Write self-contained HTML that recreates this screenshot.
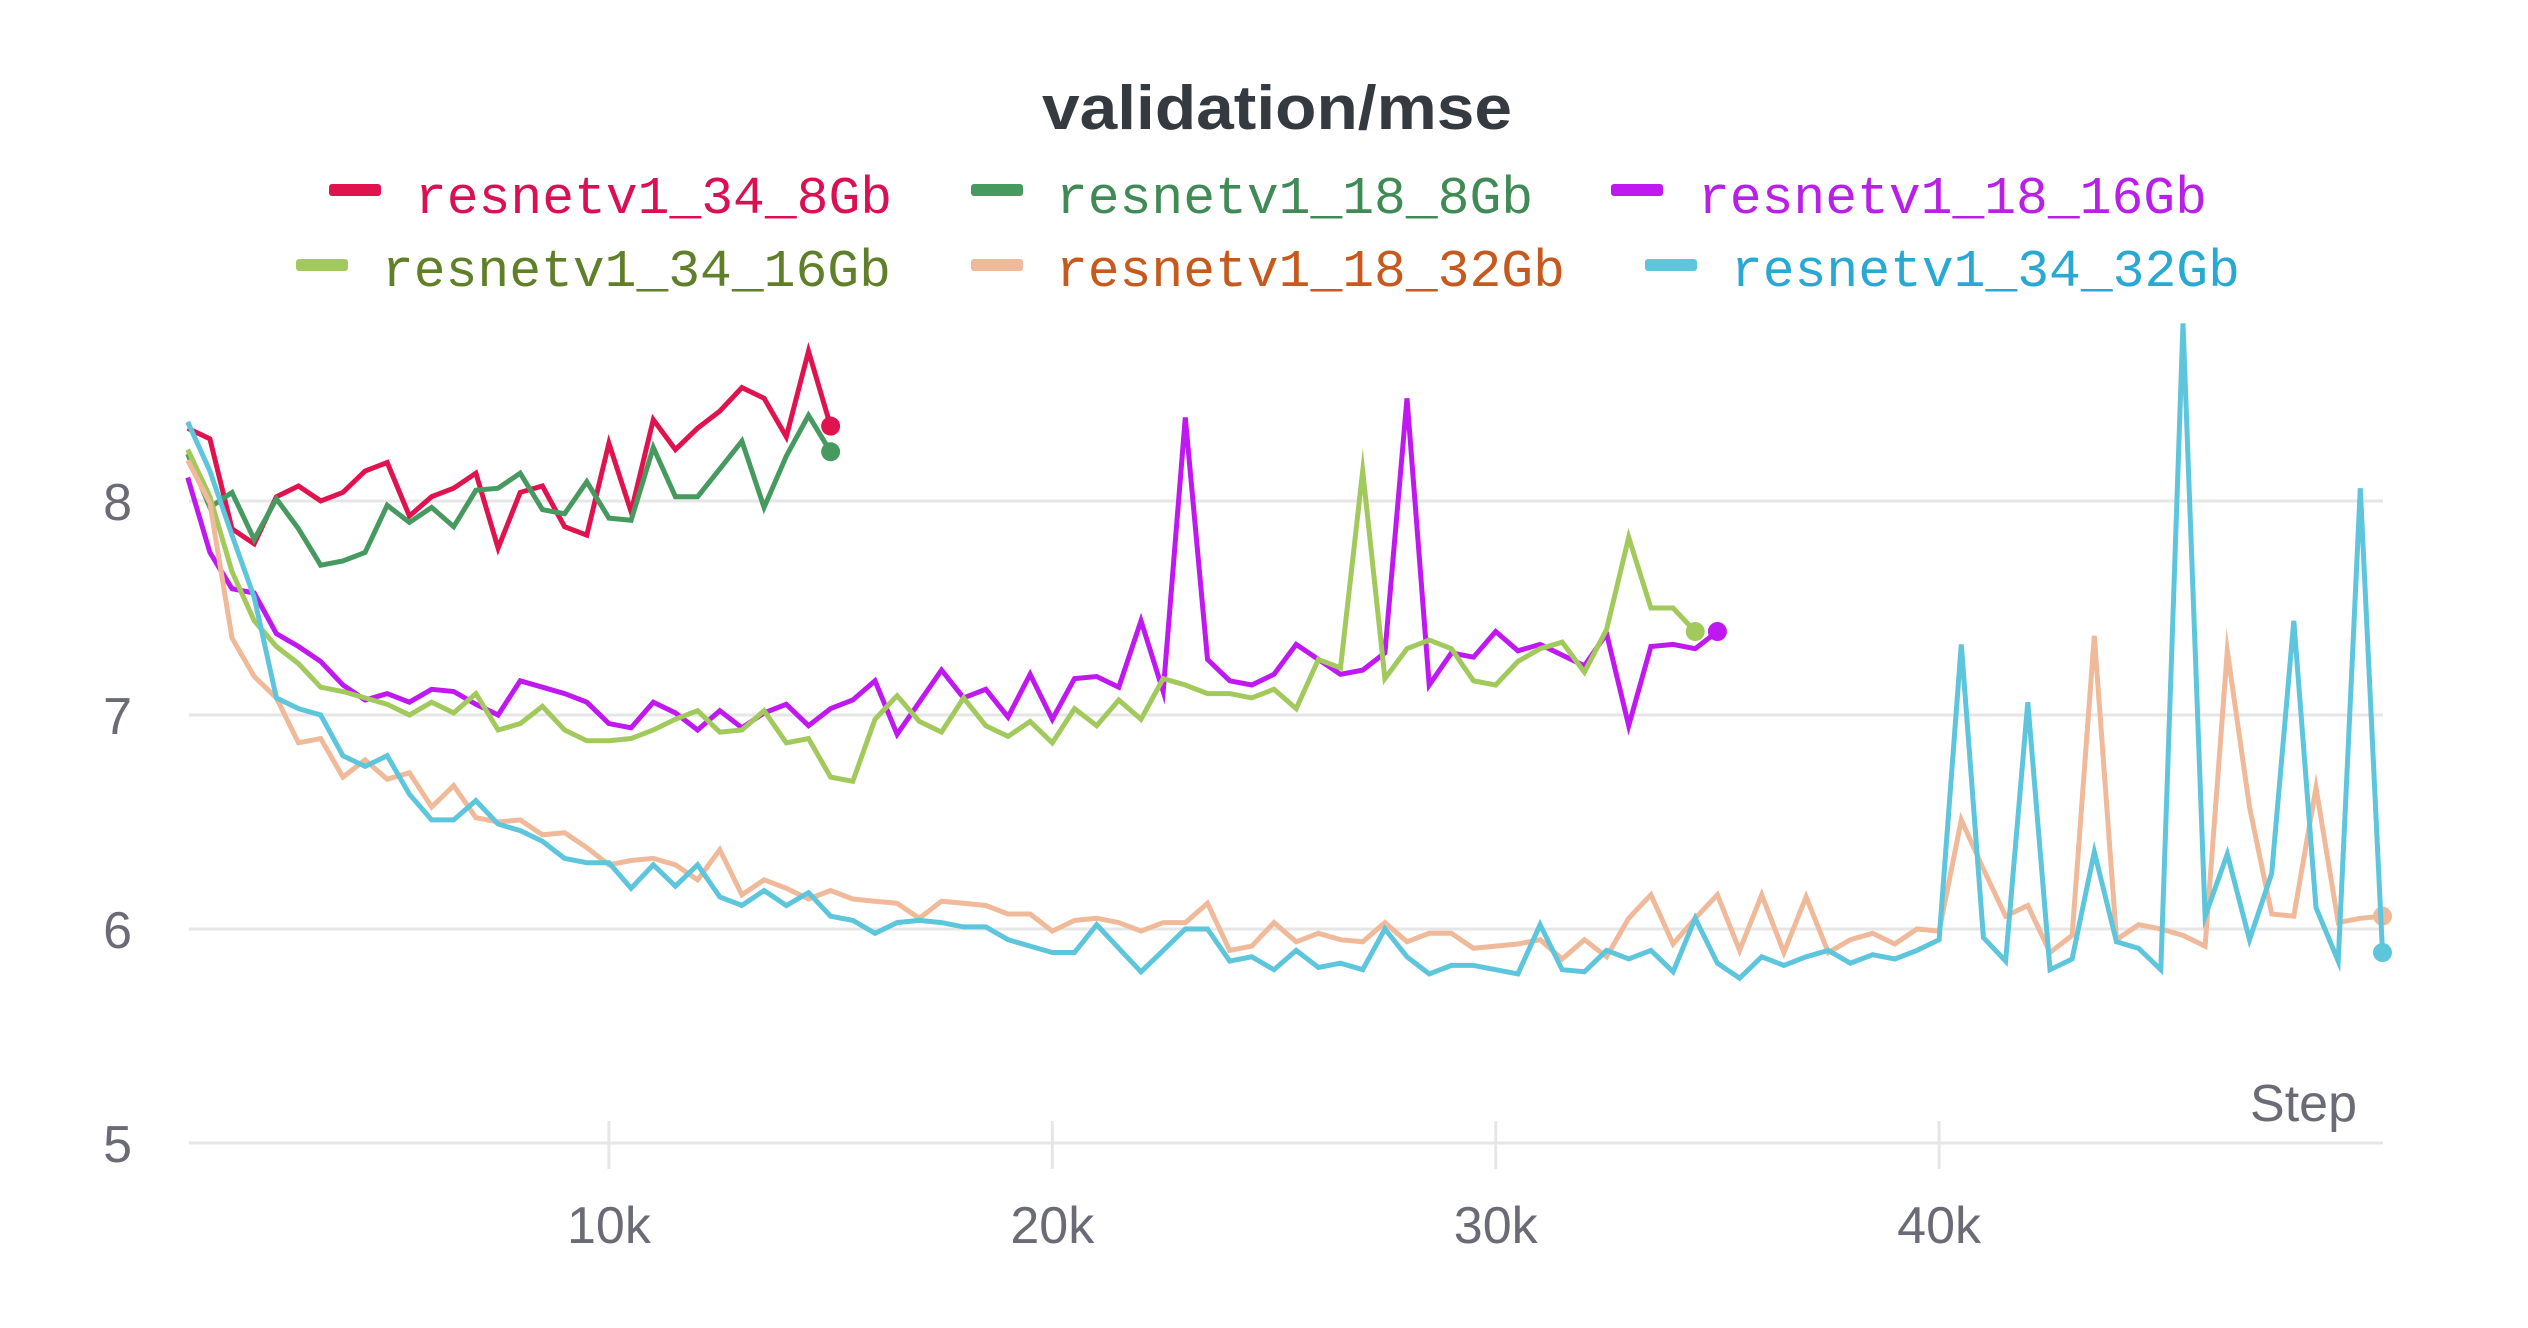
<!DOCTYPE html>
<html>
<head>
<meta charset="utf-8">
<style>
  html,body{margin:0;padding:0;background:#fff;}
  svg{display:block;}
  .tick{font-family:"Liberation Sans",sans-serif;font-size:52px;fill:#6b6b76;}
  .leg{font-family:"Liberation Mono",monospace;font-size:53px;}
</style>
</head>
<body>
<svg id="chart" width="2528" height="1328" viewBox="0 0 2528 1328" xmlns="http://www.w3.org/2000/svg">
  <text x="1277" y="129" text-anchor="middle" font-family="Liberation Sans, sans-serif" font-weight="bold" font-size="62" fill="#343a40" textLength="470" lengthAdjust="spacingAndGlyphs">validation/mse</text>
  <g id="legend"></g>
  <g id="grid"></g>
  <g id="axes"></g>
  <g id="series"></g>
</svg>
<script>
const seriesNames = ["resnetv1_34_8Gb","resnetv1_18_8Gb","resnetv1_18_16Gb","resnetv1_34_16Gb","resnetv1_18_32Gb","resnetv1_34_32Gb"];
const yTicks = [5,6,7,8];
const yTickLabels = ["5","6","7","8"];
const xTicks = [10000,20000,30000,40000];
const xTickLabels = ["10k","20k","30k","40k"];
const stepInterval = 500;

const red = [8.34,8.29,7.87,7.80,8.02,8.07,8.00,8.04,8.14,8.18,7.93,8.02,8.06,8.13,7.78,8.04,8.07,7.88,7.84,8.27,7.95,8.38,8.24,8.34,8.42,8.53,8.48,8.30,8.70,8.35];
const darkGreen = [8.22,7.97,8.04,7.82,8.01,7.87,7.70,7.72,7.76,7.98,7.90,7.97,7.88,8.05,8.06,8.13,7.96,7.94,8.09,7.92,7.91,8.25,8.02,8.02,8.15,8.28,7.97,8.21,8.40,8.23];
const magenta = [8.11,7.76,7.59,7.57,7.38,7.32,7.25,7.14,7.07,7.10,7.06,7.12,7.11,7.05,7.00,7.16,7.13,7.10,7.06,6.96,6.94,7.06,7.01,6.93,7.02,6.94,7.01,7.05,6.95,7.03,7.07,7.16,6.91,7.06,7.21,7.08,7.12,
  6.99,7.19,6.98,7.17,7.18,7.13,7.44,7.11,8.39,7.26,7.16,7.14,7.19,7.33,7.26,7.19,7.21,7.29,8.48,7.14,7.29,7.27,7.39,7.30,
  7.33,7.28,7.23,7.38,6.95,7.32,7.33,7.31,7.39];
const lime = [8.24,8.02,7.67,7.44,7.32,7.24,7.13,7.11,7.08,7.05,7.00,7.06,7.01,7.10,6.93,6.96,7.04,6.93,6.88,6.88,6.89,6.93,6.98,7.02,6.92,6.93,7.02,6.87,6.89,6.71,6.69,6.98,7.09,6.97,6.92,7.08,6.95,
  6.90,6.97,6.87,7.03,6.95,7.07,6.98,7.17,7.14,7.10,7.10,7.08,7.12,7.03,7.26,7.22,8.14,7.17,7.31,7.35,7.31,7.16,7.14,7.25,
  7.31,7.34,7.20,7.40,7.83,7.50,7.50,7.39];
const peach = [8.19,7.99,7.36,7.18,7.08,6.87,6.89,6.71,6.79,6.70,6.73,6.57,6.67,6.52,6.50,6.51,6.44,6.45,6.38,6.30,6.32,6.33,6.30,6.23,6.37,6.16,6.23,6.19,6.14,6.18,6.14,6.13,6.12,6.05,6.13,6.12,6.11,
  6.07,6.07,5.99,6.04,6.05,6.03,5.99,6.03,6.03,6.12,5.90,5.92,6.03,5.94,5.98,5.95,5.94,6.03,5.94,5.98,5.98,5.91,5.92,5.93,
  5.95,5.86,5.95,5.87,6.05,6.16,5.93,6.05,6.16,5.90,6.16,5.89,6.15,5.89,5.95,5.98,5.93,
  6.00,5.99,6.51,6.28,6.06,6.11,5.89,5.97,7.37,5.95,6.02,6.00,5.97,5.92,7.30,6.57,6.07,6.06,6.66,6.03,6.05,6.06];
const cyan = [8.37,8.14,7.84,7.55,7.08,7.03,7.00,6.81,6.76,6.81,6.63,6.51,6.51,6.60,6.49,6.46,6.41,6.33,6.31,6.31,6.19,6.30,6.20,6.30,6.15,6.11,6.18,6.11,6.17,6.06,6.04,5.98,6.03,6.04,6.03,6.01,6.01,
  5.95,5.92,5.89,5.89,6.02,5.91,5.80,5.90,6.00,6.00,5.85,5.87,5.81,5.90,5.82,5.84,5.81,6.00,5.87,5.79,5.83,5.83,5.81,5.79,
  6.02,5.81,5.80,5.90,5.86,5.90,5.80,6.05,5.84,5.77,5.87,5.83,5.87,5.90,5.84,5.88,5.86,
  5.90,5.95,7.33,5.96,5.85,7.06,5.81,5.86,6.36,5.94,5.91,5.81,8.83,6.06,6.35,5.95,6.26,7.44,6.10,5.85,8.06,5.89];

const NS = "http://www.w3.org/2000/svg";
const plotLeft = 189, plotRight = 2383;
const xA = 187.7, xPer = (2382.5 - 187.7) / 49500;
function xScale(step){ return xA + (step - 500) * xPer; }
function yScale(v){ return 501 + (8 - v) * 214; }
function mk(tag, attrs, parent){
  const el = document.createElementNS(NS, tag);
  for (const k in attrs) el.setAttribute(k, attrs[k]);
  parent.appendChild(el);
  return el;
}

const grid = document.getElementById('grid');
yTicks.forEach((t, i) => {
  const gl = mk('line', {x1: plotLeft, x2: plotRight, y1: yScale(t), y2: yScale(t), stroke: '#e6e6e6', 'stroke-width': 3}, grid);
  
  
});
const axes = document.getElementById('axes');
yTicks.forEach((t, i) => {
  const tx = mk('text', {x: 132, y: yScale(t) + 19, 'text-anchor': 'end', class: 'tick'}, axes);
  tx.textContent = yTickLabels[i];
  
  
});
xTicks.forEach((t, i) => {
  const tm = mk('line', {x1: xScale(t), x2: xScale(t), y1: 1121, y2: 1169, stroke: '#e6e6e6', 'stroke-width': 3}, axes);
  
  
  const tx = mk('text', {x: xScale(t), y: 1243, 'text-anchor': 'middle', class: 'tick'}, axes);
  tx.textContent = xTickLabels[i];
  
  
});
const st = mk('text', {x: 2357, y: 1121, 'text-anchor': 'end', class: 'tick'}, axes);
st.textContent = 'Step';



const seriesValues = [red, darkGreen, magenta, lime, peach, cyan];
const lineColors = ['#e0134f','#479a5f','#c018f0','#a2c95c','#f0b999','#5dc5dc'];
const textColors = ['#da1052','#3f8a55','#b820e8','#5f7f28','#c65a1e','#28a8d2'];
const seriesG = document.getElementById('series');
seriesValues.forEach((vals, s) => {
  let d = '';
  vals.forEach((v, i) => {
    const step = stepInterval * (i + 1);
    d += (i ? 'L' : 'M') + xScale(step).toFixed(1) + ',' + yScale(v).toFixed(1);
  });
  const p = mk('path', {d: d, fill: 'none', stroke: lineColors[s], 'stroke-width': 5, 'stroke-linejoin': 'miter', 'stroke-miterlimit': 10}, seriesG);
  
  
  const last = vals.length - 1;
  const c = mk('circle', {cx: xScale(stepInterval * (last + 1)), cy: yScale(vals[last]), r: 9.5, fill: lineColors[s]}, seriesG);
  
  
});

const legend = document.getElementById('legend');
const legendPos = [[329,415,190,213],[971,1056,190,213],[1611,1698,190,213],[296,382,265,286],[971,1056,265,286],[1645,1731,265,286]];
seriesNames.forEach((n, s) => {
  const lp = legendPos[s];
  const g = mk('g', {}, legend);
  
  
  const r = mk('rect', {x: lp[0], y: lp[2] - 6, width: 52, height: 12, rx: 3, fill: lineColors[s]}, g);
  
  
  const t = mk('text', {x: lp[1], y: lp[3], class: 'leg', fill: textColors[s]}, g);
  t.textContent = n;
  
  
});
</script>
</body>
</html>
